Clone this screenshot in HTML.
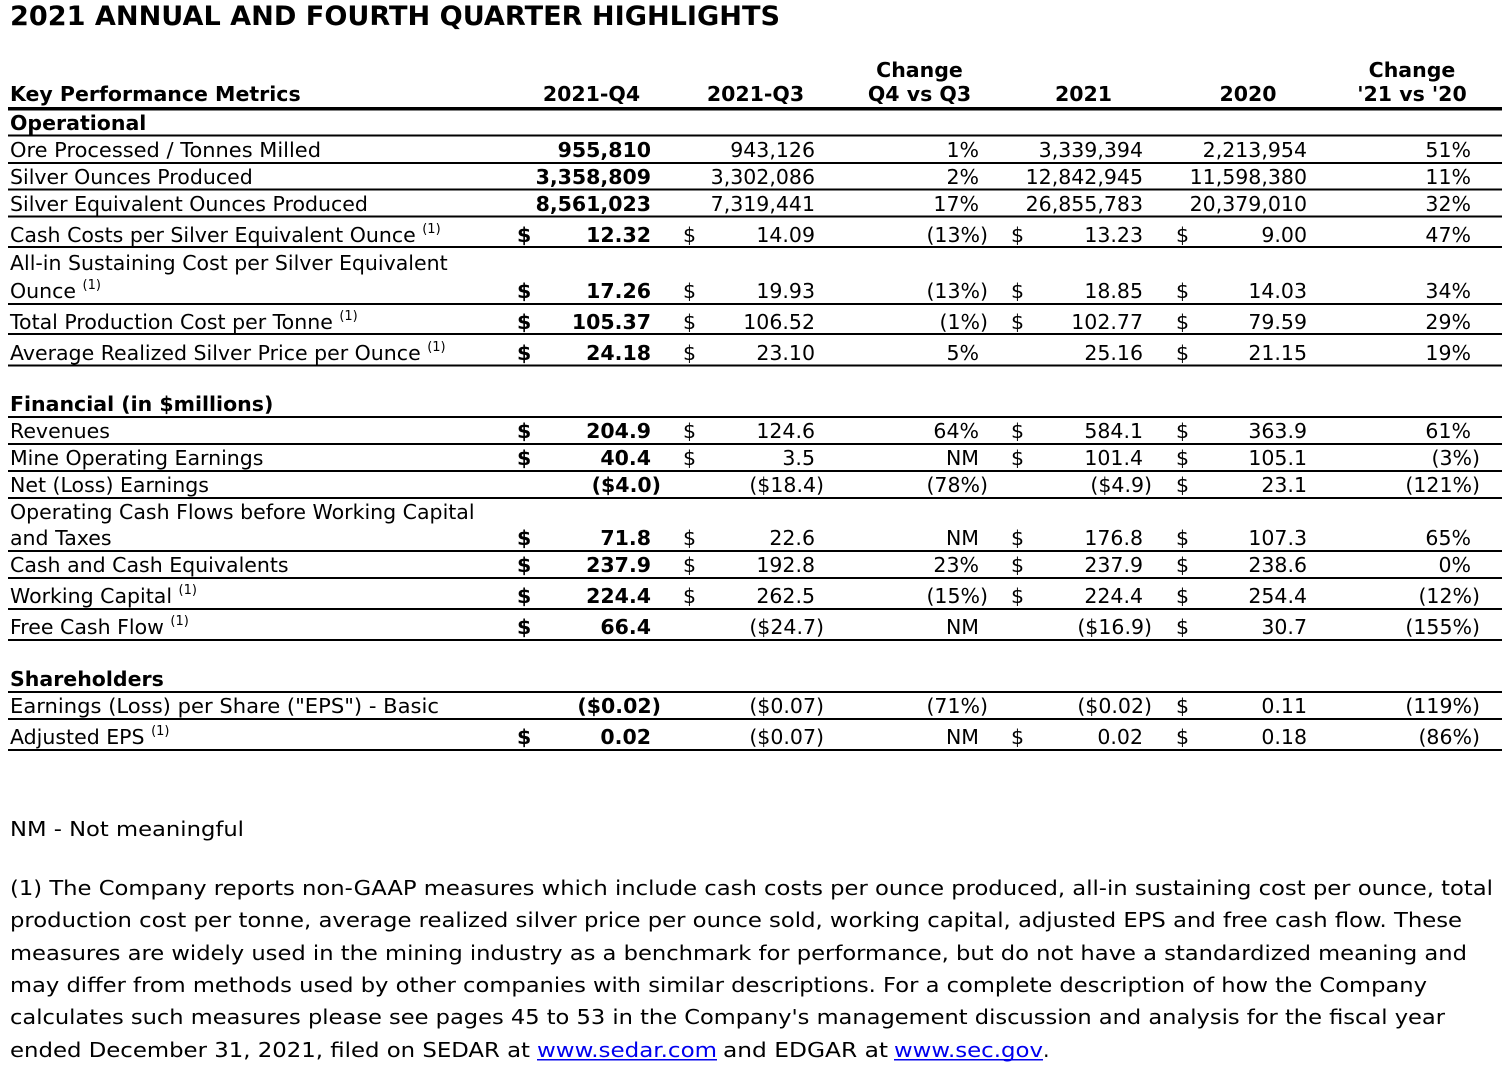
<!DOCTYPE html>
<html>
<head>
<meta charset="utf-8">
<style>
  html,body{margin:0;padding:0;background:#fff;}
  svg{display:block;}
  text{font-family:"DejaVu Sans","Liberation Sans",sans-serif;font-size:20.5px;fill:#000;}
  .b{font-weight:bold;}
  .e{text-anchor:end;}
  .m{text-anchor:middle;}
  .sup{font-size:13px;}
  .lnk{fill:#0000EE;}
</style>
</head>
<body>
<svg width="1508" height="1068" viewBox="0 0 1508 1068" xmlns="http://www.w3.org/2000/svg">
  <!-- Title -->
  <text x="10" y="25" class="b" style="font-size:27px" textLength="770" lengthAdjust="spacingAndGlyphs">2021 ANNUAL AND FOURTH QUARTER HIGHLIGHTS</text>

  <!-- Header -->
  <text x="10" y="101" class="b">Key Performance Metrics</text>
  <text x="591.5" y="101" class="b m">2021-Q4</text>
  <text x="755.5" y="101" class="b m">2021-Q3</text>
  <text x="919.5" y="77" class="b m">Change</text>
  <text x="919.5" y="101" class="b m">Q4 vs Q3</text>
  <text x="1083.5" y="101" class="b m">2021</text>
  <text x="1248" y="101" class="b m">2020</text>
  <text x="1412" y="77" class="b m">Change</text>
  <text x="1412" y="101" class="b m">'21 vs '20</text>

  <!-- Lines -->
  <g fill="#000">
    <rect x="8" y="107" width="1494" height="3.5"/>
    <rect x="8" y="134.5" width="1494" height="2"/>
    <rect x="8" y="162" width="1494" height="2"/>
    <rect x="8" y="188.5" width="1494" height="2"/>
    <rect x="8" y="215.5" width="1494" height="2"/>
    <rect x="8" y="246" width="1494" height="2"/>
    <rect x="8" y="303" width="1494" height="2"/>
    <rect x="8" y="333" width="1494" height="2"/>
    <rect x="8" y="364.5" width="1494" height="2"/>
    <rect x="8" y="416" width="1494" height="2"/>
    <rect x="8" y="443" width="1494" height="2"/>
    <rect x="8" y="470" width="1494" height="2"/>
    <rect x="8" y="497" width="1494" height="2"/>
    <rect x="8" y="550" width="1494" height="2"/>
    <rect x="8" y="577" width="1494" height="2"/>
    <rect x="8" y="608" width="1494" height="2"/>
    <rect x="8" y="639" width="1494" height="2"/>
    <rect x="8" y="691" width="1494" height="2"/>
    <rect x="8" y="718" width="1494" height="2"/>
    <rect x="8" y="749" width="1494" height="2"/>
  </g>

  <!-- Operational -->
  <text x="10" y="130" class="b">Operational</text>

  <text x="10" y="157" textLength="311" lengthAdjust="spacingAndGlyphs">Ore Processed / Tonnes Milled</text>
  <text x="651" y="157" class="b e">955,810</text>
  <text x="815" y="157" class="e">943,126</text>
  <text x="979" y="157" class="e">1%</text>
  <text x="1143" y="157" class="e">3,339,394</text>
  <text x="1307" y="157" class="e">2,213,954</text>
  <text x="1471" y="157" class="e">51%</text>

  <text x="10" y="184">Silver Ounces Produced</text>
  <text x="651" y="184" class="b e">3,358,809</text>
  <text x="815" y="184" class="e">3,302,086</text>
  <text x="979" y="184" class="e">2%</text>
  <text x="1143" y="184" class="e">12,842,945</text>
  <text x="1307" y="184" class="e">11,598,380</text>
  <text x="1471" y="184" class="e">11%</text>

  <text x="10" y="211">Silver Equivalent Ounces Produced</text>
  <text x="651" y="211" class="b e">8,561,023</text>
  <text x="815" y="211" class="e">7,319,441</text>
  <text x="979" y="211" class="e">17%</text>
  <text x="1143" y="211" class="e">26,855,783</text>
  <text x="1307" y="211" class="e">20,379,010</text>
  <text x="1471" y="211" class="e">32%</text>

  <text x="10" y="242">Cash Costs per Silver Equivalent Ounce <tspan class="sup" dy="-9">(1)</tspan></text>
  <text x="517" y="242" class="b">$</text>
  <text x="651" y="242" class="b e">12.32</text>
  <text x="683" y="242">$</text>
  <text x="815" y="242" class="e">14.09</text>
  <text x="988" y="242" class="e">(13%)</text>
  <text x="1011" y="242">$</text>
  <text x="1143" y="242" class="e">13.23</text>
  <text x="1176" y="242">$</text>
  <text x="1307" y="242" class="e">9.00</text>
  <text x="1471" y="242" class="e">47%</text>

  <text x="10" y="270">All-in Sustaining Cost per Silver Equivalent</text>
  <text x="10" y="298">Ounce <tspan class="sup" dy="-9">(1)</tspan></text>
  <text x="517" y="298" class="b">$</text>
  <text x="651" y="298" class="b e">17.26</text>
  <text x="683" y="298">$</text>
  <text x="815" y="298" class="e">19.93</text>
  <text x="988" y="298" class="e">(13%)</text>
  <text x="1011" y="298">$</text>
  <text x="1143" y="298" class="e">18.85</text>
  <text x="1176" y="298">$</text>
  <text x="1307" y="298" class="e">14.03</text>
  <text x="1471" y="298" class="e">34%</text>

  <text x="10" y="329">Total Production Cost per Tonne <tspan class="sup" dy="-9">(1)</tspan></text>
  <text x="517" y="329" class="b">$</text>
  <text x="651" y="329" class="b e">105.37</text>
  <text x="683" y="329">$</text>
  <text x="815" y="329" class="e">106.52</text>
  <text x="988" y="329" class="e">(1%)</text>
  <text x="1011" y="329">$</text>
  <text x="1143" y="329" class="e">102.77</text>
  <text x="1176" y="329">$</text>
  <text x="1307" y="329" class="e">79.59</text>
  <text x="1471" y="329" class="e">29%</text>

  <text x="10" y="360">Average Realized Silver Price per Ounce <tspan class="sup" dy="-9">(1)</tspan></text>
  <text x="517" y="360" class="b">$</text>
  <text x="651" y="360" class="b e">24.18</text>
  <text x="683" y="360">$</text>
  <text x="815" y="360" class="e">23.10</text>
  <text x="979" y="360" class="e">5%</text>
  <text x="1143" y="360" class="e">25.16</text>
  <text x="1176" y="360">$</text>
  <text x="1307" y="360" class="e">21.15</text>
  <text x="1471" y="360" class="e">19%</text>

  <!-- Financial -->
  <text x="10" y="411" class="b">Financial (in $millions)</text>

  <text x="10" y="438">Revenues</text>
  <text x="517" y="438" class="b">$</text>
  <text x="651" y="438" class="b e">204.9</text>
  <text x="683" y="438">$</text>
  <text x="815" y="438" class="e">124.6</text>
  <text x="979" y="438" class="e">64%</text>
  <text x="1011" y="438">$</text>
  <text x="1143" y="438" class="e">584.1</text>
  <text x="1176" y="438">$</text>
  <text x="1307" y="438" class="e">363.9</text>
  <text x="1471" y="438" class="e">61%</text>

  <text x="10" y="465">Mine Operating Earnings</text>
  <text x="517" y="465" class="b">$</text>
  <text x="651" y="465" class="b e">40.4</text>
  <text x="683" y="465">$</text>
  <text x="815" y="465" class="e">3.5</text>
  <text x="979" y="465" class="e">NM</text>
  <text x="1011" y="465">$</text>
  <text x="1143" y="465" class="e">101.4</text>
  <text x="1176" y="465">$</text>
  <text x="1307" y="465" class="e">105.1</text>
  <text x="1480" y="465" class="e">(3%)</text>

  <text x="10" y="492">Net (Loss) Earnings</text>
  <text x="661" y="492" class="b e">($4.0)</text>
  <text x="824" y="492" class="e">($18.4)</text>
  <text x="988" y="492" class="e">(78%)</text>
  <text x="1152" y="492" class="e">($4.9)</text>
  <text x="1176" y="492">$</text>
  <text x="1307" y="492" class="e">23.1</text>
  <text x="1480" y="492" class="e">(121%)</text>

  <text x="10" y="519">Operating Cash Flows before Working Capital</text>
  <text x="10" y="545">and Taxes</text>
  <text x="517" y="545" class="b">$</text>
  <text x="651" y="545" class="b e">71.8</text>
  <text x="683" y="545">$</text>
  <text x="815" y="545" class="e">22.6</text>
  <text x="979" y="545" class="e">NM</text>
  <text x="1011" y="545">$</text>
  <text x="1143" y="545" class="e">176.8</text>
  <text x="1176" y="545">$</text>
  <text x="1307" y="545" class="e">107.3</text>
  <text x="1471" y="545" class="e">65%</text>

  <text x="10" y="572">Cash and Cash Equivalents</text>
  <text x="517" y="572" class="b">$</text>
  <text x="651" y="572" class="b e">237.9</text>
  <text x="683" y="572">$</text>
  <text x="815" y="572" class="e">192.8</text>
  <text x="979" y="572" class="e">23%</text>
  <text x="1011" y="572">$</text>
  <text x="1143" y="572" class="e">237.9</text>
  <text x="1176" y="572">$</text>
  <text x="1307" y="572" class="e">238.6</text>
  <text x="1471" y="572" class="e">0%</text>

  <text x="10" y="603">Working Capital <tspan class="sup" dy="-9">(1)</tspan></text>
  <text x="517" y="603" class="b">$</text>
  <text x="651" y="603" class="b e">224.4</text>
  <text x="683" y="603">$</text>
  <text x="815" y="603" class="e">262.5</text>
  <text x="988" y="603" class="e">(15%)</text>
  <text x="1011" y="603">$</text>
  <text x="1143" y="603" class="e">224.4</text>
  <text x="1176" y="603">$</text>
  <text x="1307" y="603" class="e">254.4</text>
  <text x="1480" y="603" class="e">(12%)</text>

  <text x="10" y="634">Free Cash Flow <tspan class="sup" dy="-9">(1)</tspan></text>
  <text x="517" y="634" class="b">$</text>
  <text x="651" y="634" class="b e">66.4</text>
  <text x="824" y="634" class="e">($24.7)</text>
  <text x="979" y="634" class="e">NM</text>
  <text x="1152" y="634" class="e">($16.9)</text>
  <text x="1176" y="634">$</text>
  <text x="1307" y="634" class="e">30.7</text>
  <text x="1480" y="634" class="e">(155%)</text>

  <!-- Shareholders -->
  <text x="10" y="686" class="b">Shareholders</text>

  <text x="10" y="713" textLength="429" lengthAdjust="spacingAndGlyphs">Earnings (Loss) per Share ("EPS") - Basic</text>
  <text x="661" y="713" class="b e">($0.02)</text>
  <text x="824" y="713" class="e">($0.07)</text>
  <text x="988" y="713" class="e">(71%)</text>
  <text x="1152" y="713" class="e">($0.02)</text>
  <text x="1176" y="713">$</text>
  <text x="1307" y="713" class="e">0.11</text>
  <text x="1480" y="713" class="e">(119%)</text>

  <text x="10" y="744">Adjusted EPS <tspan class="sup" dy="-9">(1)</tspan></text>
  <text x="517" y="744" class="b">$</text>
  <text x="651" y="744" class="b e">0.02</text>
  <text x="824" y="744" class="e">($0.07)</text>
  <text x="979" y="744" class="e">NM</text>
  <text x="1011" y="744">$</text>
  <text x="1143" y="744" class="e">0.02</text>
  <text x="1176" y="744">$</text>
  <text x="1307" y="744" class="e">0.18</text>
  <text x="1480" y="744" class="e">(86%)</text>

  <!-- Footer -->
  <text x="10" y="836" textLength="234" lengthAdjust="spacingAndGlyphs">NM - Not meaningful</text>

  <text x="10" y="895" textLength="1483" lengthAdjust="spacingAndGlyphs">(1) The Company reports non-GAAP measures which include cash costs per ounce produced, all-in sustaining cost per ounce, total</text>
  <text x="10" y="927" textLength="1452" lengthAdjust="spacingAndGlyphs">production cost per tonne, average realized silver price per ounce sold, working capital, adjusted EPS and free cash flow. These</text>
  <text x="10" y="960" textLength="1457" lengthAdjust="spacingAndGlyphs">measures are widely used in the mining industry as a benchmark for performance, but do not have a standardized meaning and</text>
  <text x="10" y="992" textLength="1417" lengthAdjust="spacingAndGlyphs">may differ from methods used by other companies with similar descriptions. For a complete description of how the Company</text>
  <text x="10" y="1024" textLength="1435" lengthAdjust="spacingAndGlyphs">calculates such measures please see pages 45 to 53 in the Company's management discussion and analysis for the fiscal year</text>
  <text x="10" y="1057" textLength="520" lengthAdjust="spacingAndGlyphs">ended December 31, 2021, filed on SEDAR at</text>
  <text x="537" y="1057" class="lnk" textLength="180" lengthAdjust="spacingAndGlyphs">www.sedar.com</text>
  <text x="723" y="1057" textLength="165" lengthAdjust="spacingAndGlyphs">and EDGAR at</text>
  <text x="894" y="1057" class="lnk" textLength="149" lengthAdjust="spacingAndGlyphs">www.sec.gov</text>
  <text x="1043" y="1057">.</text>
  <rect x="537" y="1059" width="180" height="1.5" fill="#0000EE"/>
  <rect x="894" y="1059" width="149" height="1.5" fill="#0000EE"/>
</svg>
</body>
</html>
